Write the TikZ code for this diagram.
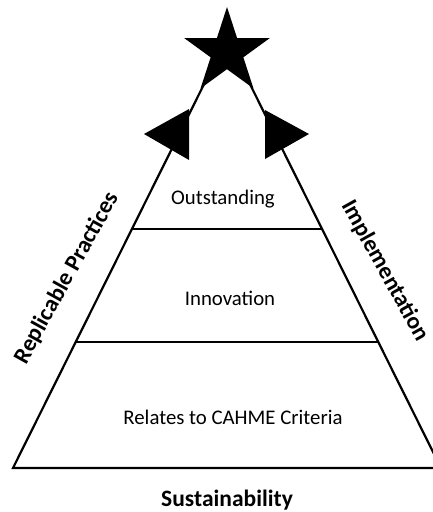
\documentclass[tikz,border=0pt]{standalone}
\usepackage{fontspec}
\setmainfont{Carlito}
\usetikzlibrary{shapes.geometric}
\begin{document}
\begin{tikzpicture}[x=1pt,y=-1pt,
  edge/.style={line width=2.2pt, line join=miter},
  level/.style={font=\fontsize{20.8}{24}\selectfont, inner sep=0pt},
  side/.style={font=\fontsize{23.5}{28}\selectfont\bfseries, inner sep=0pt},
  marker/.style={fill=black}]
\useasboundingbox (0,0) rectangle (433,512);
\begin{scope}
\clip (0,0) rectangle (433,512);
% pyramid corners
\coordinate (bl) at (13,468);
\coordinate (br) at (441,468);
\coordinate (apex) at (227,38);
\coordinate (l1) at (132,229);
\coordinate (r1) at (322,229);
\coordinate (l2) at (76,342);
\coordinate (r2) at (378,342);
\draw[edge] (apex) -- (bl) -- (br) -- cycle;
\draw[edge] (l1) -- (r1);
\draw[edge] (l2) -- (r2);
\end{scope}
% side markers
\fill[marker] (189,109) -- (189,160) -- (144,134) -- cycle;
\fill[marker] (265,110) -- (265,159) -- (309,134) -- cycle;
% star
\node[star, star points=5, star point ratio=2.618, fill=black, minimum size=90pt, inner sep=0pt] (star) at (227,52) {};
% labels
\node[level] (outstanding) at (223,199) {Outstanding};
\node[level] (innovation) at (230,298) {Innovation};
\node[level] (criteria) at (233,417) {Relates to CAHME Criteria};
\node[side, rotate=61] (replicable) at (67,278) {Replicable Practices};
\node[side, rotate=-61] (implementation) at (385,271) {Implementation};
\node[side] (sustainability) at (227,500) {Sustainability};
\end{tikzpicture}
\end{document}
